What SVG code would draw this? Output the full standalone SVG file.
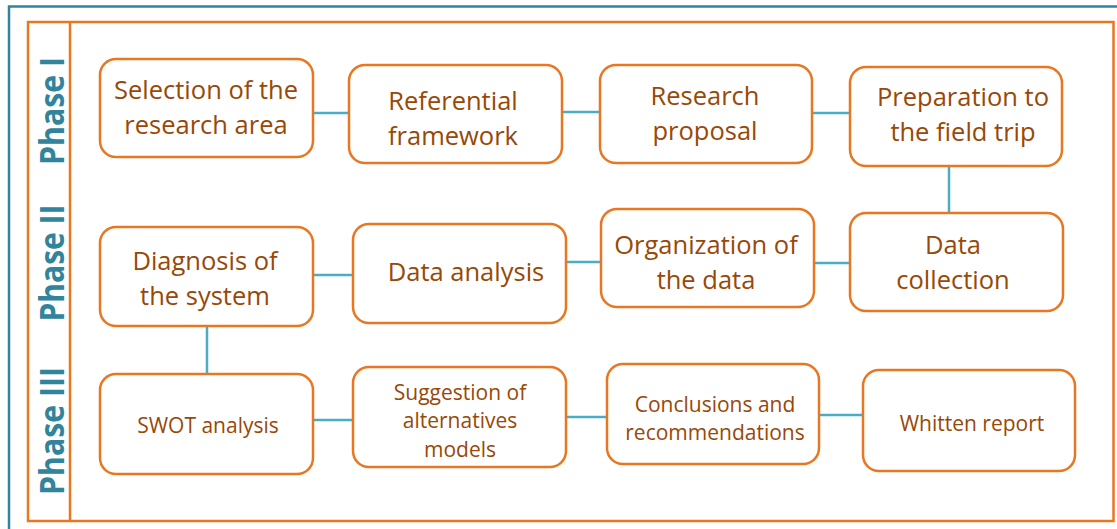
<svg xmlns="http://www.w3.org/2000/svg" width="1117" height="529" viewBox="0 0 1117 529">
  <style>
    .frame-blue { fill: none; stroke: #31849B; stroke-width: 2.5; }
    .frame-orange { fill: none; stroke: #E87722; stroke-width: 2.5; }
    .box { fill: #FFFFFF; stroke: #E87722; stroke-width: 2.5; }
    .link { stroke: #4BACC6; stroke-width: 2.5; fill: none; }
    .lbl { font-family: "Open Sans", "Liberation Sans", sans-serif; font-size: 25.5px; fill: #984807; text-anchor: middle; }
    .lbl-s { font-family: "Open Sans", "Liberation Sans", sans-serif; font-size: 21px; fill: #984807; text-anchor: middle; }
    .phase { font-family: "Open Sans", "Liberation Sans", sans-serif; font-size: 34px; font-weight: bold; fill: #31849B; text-anchor: middle; }
  </style>

  <rect width="1117" height="529" fill="#FFFFFF"/>

  <!-- outer frames -->
  <g id="frames">
    <path class="frame-blue" d="M9,531 V6.5 H1120"/>
    <rect class="frame-orange" x="28" y="22" width="1085.5" height="499"/>
    <line class="frame-orange" x1="70" y1="22" x2="70" y2="521"/>
  </g>

  <!-- phase labels -->
  <g id="phases">
    <text class="phase" transform="translate(64,111) rotate(-90)" textLength="108" lengthAdjust="spacingAndGlyphs">Phase I</text>
    <text class="phase" transform="translate(64,263) rotate(-90)" textLength="117" lengthAdjust="spacingAndGlyphs">Phase II</text>
    <text class="phase" transform="translate(64,431) rotate(-90)" textLength="128" lengthAdjust="spacingAndGlyphs">Phase III</text>
  </g>

  <!-- connectors -->
  <g id="connectors">
    <line class="link" x1="313" y1="113" x2="349" y2="113"/>
    <line class="link" x1="562" y1="112" x2="600" y2="112"/>
    <line class="link" x1="812" y1="113" x2="850" y2="113"/>
    <line class="link" x1="949" y1="166" x2="949" y2="213"/>
    <line class="link" x1="814" y1="263" x2="850" y2="263"/>
    <line class="link" x1="566" y1="262" x2="601" y2="262"/>
    <line class="link" x1="313" y1="275" x2="353" y2="275"/>
    <line class="link" x1="207" y1="326" x2="207" y2="374"/>
    <line class="link" x1="313" y1="420" x2="353" y2="420"/>
    <line class="link" x1="566" y1="417" x2="607" y2="417"/>
    <line class="link" x1="819" y1="415" x2="863" y2="415"/>
  </g>

  <!-- Phase I -->
  <g id="selection">
    <rect class="box" x="100" y="59" width="213" height="98" rx="16"/>
    <text class="lbl" x="206" y="99">Selection of the</text>
    <text class="lbl" x="206" y="134">research area</text>
  </g>
  <g id="referential">
    <rect class="box" x="349" y="65" width="213" height="98" rx="16"/>
    <text class="lbl" x="453" y="110">Referential</text>
    <text class="lbl" x="453" y="145">framework</text>
  </g>
  <g id="proposal">
    <rect class="box" x="600" y="65" width="212" height="98" rx="16"/>
    <text class="lbl" x="705" y="105">Research</text>
    <text class="lbl" x="705" y="140">proposal</text>
  </g>
  <g id="preparation">
    <rect class="box" x="850" y="67" width="212" height="99" rx="16"/>
    <text class="lbl" x="963" y="106">Preparation to</text>
    <text class="lbl" x="963" y="141">the field trip</text>
  </g>

  <!-- Phase II -->
  <g id="diagnosis">
    <rect class="box" x="100" y="227" width="213" height="99" rx="16"/>
    <text class="lbl" x="205" y="270">Diagnosis of</text>
    <text class="lbl" x="205" y="305">the system</text>
  </g>
  <g id="data-analysis">
    <rect class="box" x="353" y="224" width="213" height="99" rx="16"/>
    <text class="lbl" x="466" y="281">Data analysis</text>
  </g>
  <g id="organization">
    <rect class="box" x="601" y="209" width="213" height="98" rx="16"/>
    <text class="lbl" x="706" y="254">Organization of</text>
    <text class="lbl" x="706" y="289">the data</text>
  </g>
  <g id="data-collection">
    <rect class="box" x="850" y="213" width="213" height="98" rx="16"/>
    <text class="lbl" x="953" y="254">Data</text>
    <text class="lbl" x="953" y="289">collection</text>
  </g>

  <!-- Phase III -->
  <g id="swot">
    <rect class="box" x="100" y="374" width="213" height="100" rx="16"/>
    <text class="lbl-s" x="208" y="433">SWOT analysis</text>
  </g>
  <g id="suggestion">
    <rect class="box" x="353" y="367" width="213" height="100" rx="16"/>
    <text class="lbl-s" x="460" y="400">Suggestion of</text>
    <text class="lbl-s" x="460" y="428">alternatives</text>
    <text class="lbl-s" x="460" y="457">models</text>
  </g>
  <g id="conclusions">
    <rect class="box" x="607" y="364" width="212" height="100" rx="16"/>
    <text class="lbl-s" x="715" y="412">Conclusions and</text>
    <text class="lbl-s" x="715" y="440">recommendations</text>
  </g>
  <g id="report">
    <rect class="box" x="863" y="370" width="212" height="101" rx="16"/>
    <text class="lbl-s" x="972" y="431">Whitten report</text>
  </g>
</svg>
